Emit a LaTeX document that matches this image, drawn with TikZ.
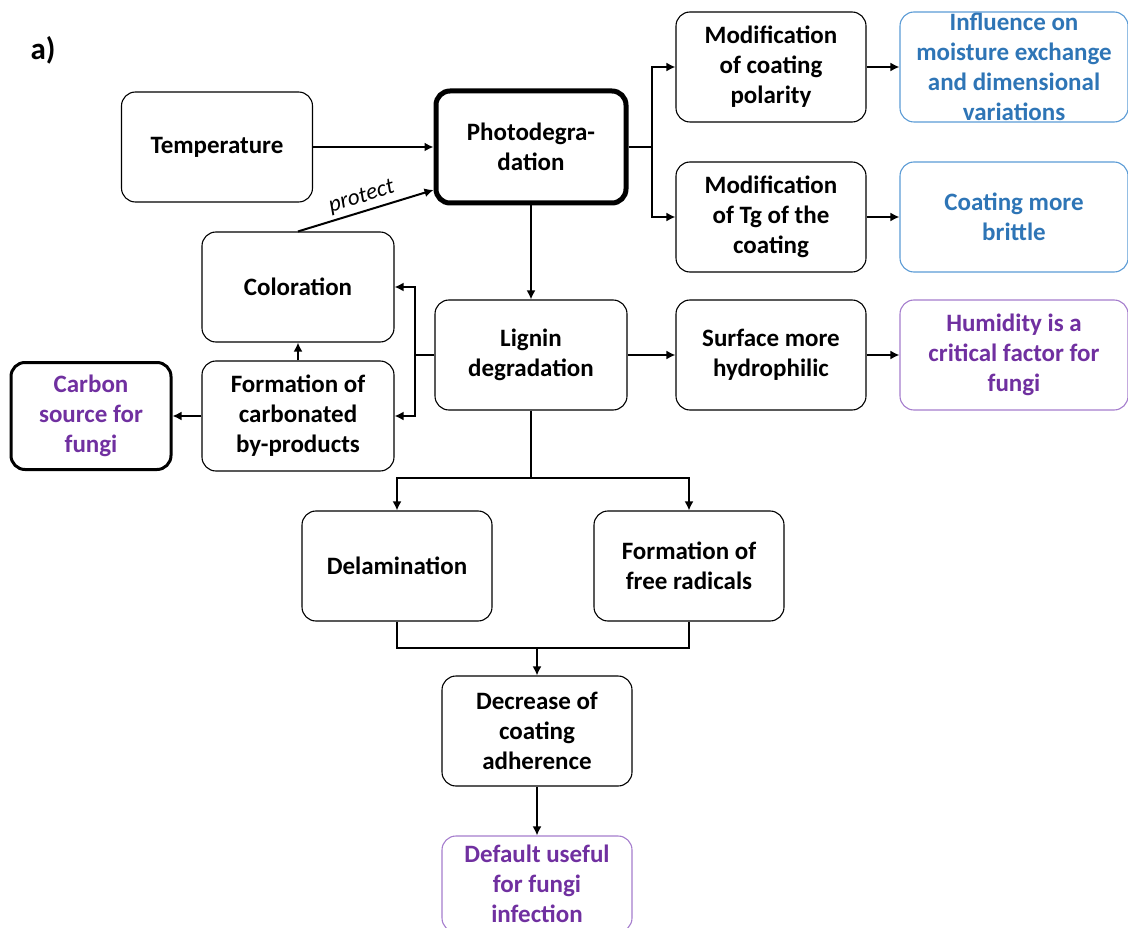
\documentclass[tikz,border=0pt]{standalone}
\usepackage{fontspec}
\setmainfont{Carlito}
\usetikzlibrary{arrows.meta}
\definecolor{myblue}{RGB}{46,117,182}
\definecolor{bluebd}{RGB}{91,155,213}
\definecolor{mypurple}{RGB}{112,48,160}
\definecolor{purpbd}{RGB}{165,125,205}
\tikzset{
  box/.style={draw, rounded corners=14pt, line width=1.1pt, minimum width=190pt, minimum height=110pt, align=center, inner sep=2pt, font=\fontsize{25}{30}\selectfont\bfseries},
  bluebox/.style={box, draw=bluebd, text=myblue, minimum width=228pt},
  purpbox/.style={box, draw=purpbd, text=mypurple},
  txt/.style={align=center, inner sep=0pt, font=\fontsize{25}{30}\selectfont\bfseries},
  conn/.style={line width=2.3pt},
  arr/.style={line width=2.3pt, -{Latex[length=9pt,width=9pt]}}
}
\begin{document}
\begin{tikzpicture}[x=1pt,y=-1pt]
\useasboundingbox (0,0) rectangle (1128,928);
\node[font=\fontsize{31}{34}\selectfont\bfseries] (lab) at (43,50) {a)};
% boxes
\node[box, minimum width=191pt] (temp) at (217,147) {Temperature};
\node[box, line width=5pt, minimum width=190pt, minimum height=112pt] (photo) at (531,147) {Photodegra-\\dation};
\node[box] (mp) at (771,67) {Modification\\of coating\\polarity};
\node[bluebox] (inf) at (1014,67) {};
\node[txt, text=myblue] (inft) at (inf.center) {Influence on\\moisture exchange\\and dimensional\\variations};
\node[box] (mt) at (771,217) {Modification\\of Tg of the\\coating};
\node[bluebox] (brit) at (1014,217) {Coating more\\brittle};
\node[box, minimum width=192pt] (col) at (298,287) {Coloration};
\node[box, minimum width=192pt] (lign) at (531,355) {Lignin\\degradation};
\node[box] (surf) at (771,355) {Surface more\\hydrophilic};
\node[purpbox, minimum width=228pt] (hum) at (1014,355) {Humidity is a\\critical factor for\\fungi};
\node[box, line width=3pt, minimum width=160pt, minimum height=107pt, text=mypurple] (carb) at (91,416) {Carbon\\source for\\fungi};
\node[box, minimum width=192pt] (form) at (298,416) {Formation of\\carbonated\\by-products};
\node[box] (del) at (397,566) {Delamination};
\node[box] (rad) at (689,566) {Formation of\\free radicals};
\node[box] (dec) at (537,731) {Decrease of\\coating\\adherence};
\node[purpbox, minimum height=96pt] (def) at (537,884) {Default useful\\for fungi\\infection};
% connectors
\draw[arr] (temp) -- (photo);
\draw[arr, line width=2pt] (col.north) -- node[above, sloped, inner sep=4pt, font=\fontsize{23}{26}\selectfont\itshape] {protect} ([yshift=-43pt]photo.west);
\coordinate (pj) at (652,147);
\draw[conn] (photo.east) -- (pj);
\draw[arr] (pj) |- (mp.west);
\draw[arr] (pj) |- (mt.west);
\draw[arr] (mp) -- (inf);
\draw[arr] (mt) -- (brit);
\draw[arr] (photo) -- (lign);
\coordinate (lj) at (415,355);
\draw[conn] (lign.west) -- (lj);
\draw[arr] (lj) |- (col.east);
\draw[arr] (lj) |- (form.east);
\draw[arr] (form) -- (col);
\draw[arr] (form) -- (carb);
\draw[arr] (lign) -- (surf);
\draw[arr] (surf) -- (hum);
\coordinate (lb) at (531,478);
\draw[conn] (lign.south) -- (lb);
\draw[arr] (lb) -| (del.north);
\draw[arr] (lb) -| (rad.north);
\coordinate (mj) at (537,648);
\draw[conn] (del.south) |- (mj);
\draw[conn] (rad.south) |- (mj);
\draw[arr] (mj) -- (dec.north);
\draw[arr] (dec) -- (def);
\end{tikzpicture}
\end{document}
